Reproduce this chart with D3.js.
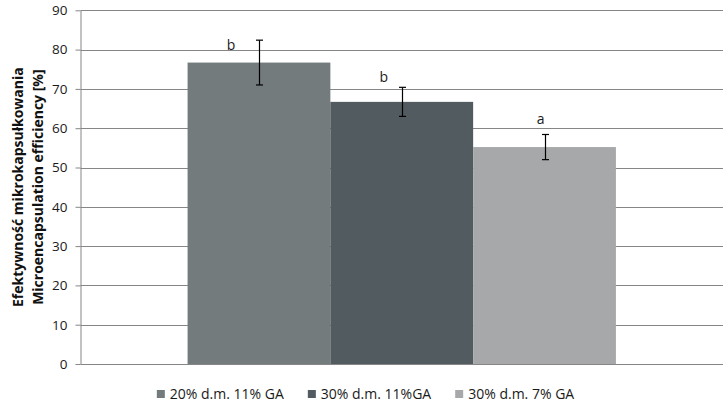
<!DOCTYPE html>
<html>
<head>
<meta charset="utf-8">
<script src="https://cdn.jsdelivr.net/npm/d3@7"></script>
<style>
  body { margin: 0; background: #fff; }
  text { font-family: "Open Sans", sans-serif; }
</style>
</head>
<body>
<svg id="chart" width="727" height="411"></svg>
<script>

// data
var series = ["20% d.m. 11% GA", "30% d.m. 11%GA", "30% d.m. 7% GA"]
var values = [76.7, 66.7, 55.2]
var errors = [5.7, 3.7, 3.2]
var letters = ["b", "b", "a"]
var yTicks = [0, 10, 20, 30, 40, 50, 60, 70, 80, 90]
var yTitle = ["Efektywność mikrokapsułkowania", "Microencapsulation efficiency [%]"]

// styling / layout
var colors = ["#737b7c", "#525b5f", "#a6a8aa"]
var labelNudge = [[-28, -13], [-18, -20], [-4, -23]]

var svg = d3.select("#chart")
var W = 727, H = 411
var plotLeft = 80.5, plotRight = 723, plotTop = 10.3, plotBottom = 364

var y = d3.scaleLinear().domain([0, 90]).range([plotBottom, plotTop])
var x0 = d3.scaleBand().domain(["all"]).range([plotLeft, plotRight]).padding(0.2)
var x1 = d3.scaleBand().domain(series).range([0, x0.bandwidth()])

svg.append("rect").attr("width", W).attr("height", H).attr("fill", "#fff")

// gridlines
svg.append("g").selectAll("line").data(yTicks.slice(1)).enter().append("line")
  .attr("x1", plotLeft).attr("x2", plotRight)
  .attr("y1", function(d){ return Math.round(y(d)) + 0.5 })
  .attr("y2", function(d){ return Math.round(y(d)) + 0.5 })
  .style("stroke", "#868686").style("stroke-width", 1)

// y axis
var yAxis = svg.append("g")
  .attr("transform", "translate(" + plotLeft + ",0)")
  .call(d3.axisLeft(y).tickValues(yTicks).tickSize(5).tickPadding(8).tickSizeOuter(0))
yAxis.select(".domain").style("stroke", "#868686")
yAxis.selectAll(".tick line").style("stroke", "#868686")
yAxis.selectAll(".tick text").style("font-size", "13.5px").style("fill", "#1a1a1a")
  .style("font-family", "'Open Sans', sans-serif")

// x axis line
svg.append("line")
  .attr("x1", plotLeft).attr("x2", plotRight)
  .attr("y1", plotBottom + 0.5).attr("y2", plotBottom + 0.5)
  .style("stroke", "#868686")

// bars
var gx = x0("all")
svg.append("g").selectAll("rect").data(values).enter().append("rect")
  .attr("x", function(d, i){ return gx + x1(series[i]) })
  .attr("width", x1.bandwidth())
  .attr("y", function(d){ return y(d) })
  .attr("height", function(d){ return plotBottom - y(d) })
  .attr("fill", function(d, i){ return colors[i] })

// error bars
var eb = svg.append("g").selectAll("g").data(values).enter().append("g")
  .attr("transform", function(d, i){
    return "translate(" + (Math.round(gx + x1(series[i]) + x1.bandwidth() / 2) + 0.5) + ",0)" })
eb.append("line")
  .attr("y1", function(d, i){ return y(d + errors[i]) })
  .attr("y2", function(d, i){ return y(d - errors[i]) })
  .style("stroke", "#000").style("stroke-width", 1.2)
eb.append("line")
  .attr("x1", -3.5).attr("x2", 3.5)
  .attr("y1", function(d, i){ return y(d + errors[i]) })
  .attr("y2", function(d, i){ return y(d + errors[i]) })
  .style("stroke", "#000").style("stroke-width", 1.2)
eb.append("line")
  .attr("x1", -3.5).attr("x2", 3.5)
  .attr("y1", function(d, i){ return y(d - errors[i]) })
  .attr("y2", function(d, i){ return y(d - errors[i]) })
  .style("stroke", "#000").style("stroke-width", 1.2)

// significance letters
svg.append("g").selectAll("text").data(values).enter().append("text")
  .attr("x", function(d, i){ return gx + x1(series[i]) + x1.bandwidth() / 2 + labelNudge[i][0] })
  .attr("y", function(d, i){ return y(d) + labelNudge[i][1] })
  .attr("text-anchor", "middle")
  .style("font-size", "14px").style("fill", "#1a1a1a")
  .text(function(d, i){ return letters[i] })

// y axis title
var midY = (plotTop + plotBottom) / 2
svg.append("g").selectAll("text").data(yTitle).enter().append("text")
  .attr("transform", function(d, i){ return "translate(" + (23 + i * 20) + "," + midY + ") rotate(-90)" })
  .attr("text-anchor", "middle")
  .style("font-size", "14px").style("font-weight", "bold").style("fill", "#111")
  .text(function(d){ return d })

// legend
var legend = svg.append("g")
var items = legend.selectAll("g").data(series).enter().append("g")
items.append("rect")
  .attr("y", 390).attr("width", 8).attr("height", 8)
  .attr("fill", function(d, i){ return colors[i] })
items.append("text")
  .attr("x", 13).attr("y", 399)
  .style("font-size", "14px").style("fill", "#1a1a1a")
  .text(function(d){ return d })

var xpos = 0
items.each(function(){
  var w = d3.select(this).select("text").node().getComputedTextLength()
  d3.select(this).attr("transform", "translate(" + xpos + ",0)")
  xpos += 13 + w + 24
})
xpos -= 24
legend.attr("transform", "translate(" + (W / 2 + 2 - xpos / 2) + ",0)")

</script>
</body>
</html>
